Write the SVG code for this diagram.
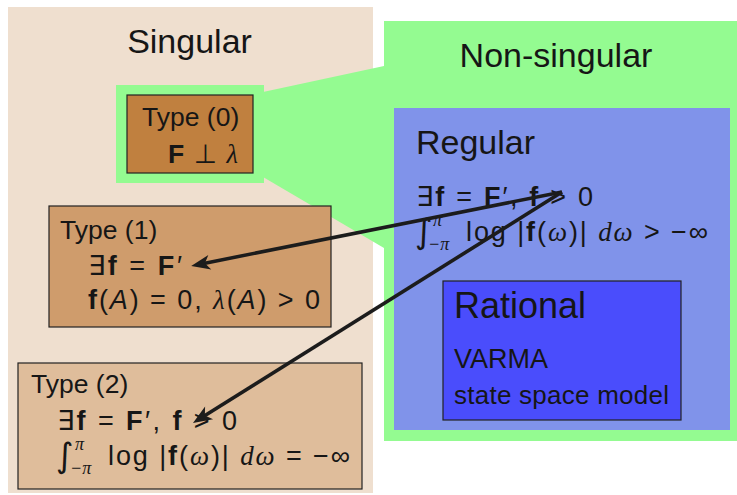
<svg xmlns="http://www.w3.org/2000/svg" width="737" height="495" viewBox="0 0 737 495">
<style>
  text { font-family: "Liberation Sans", Arial, sans-serif; fill: #161616; }
  .title { font-size: 34px; }
  .t { font-size: 26.5px; }
  .m { font-size: 27px; }
  .b { font-weight: bold; }
  .i { font-style: italic; font-family: "Liberation Serif", serif; }
  .ia { font-style: italic; }
  .sym { font-family: "DejaVu Sans", sans-serif; }
  .int { font-family: "DejaVu Sans", sans-serif; font-size: 34px; }
  .lim { font-size: 18px; font-style: italic; font-family: "Liberation Serif", serif; }
  .box { stroke: #222; stroke-width: 1.2; }
  .arrow { stroke: #1c1c1c; stroke-width: 3.6; fill: none; marker-end: url(#head); }
</style>
<defs>
  <marker id="head" markerUnits="userSpaceOnUse" orient="auto" markerWidth="24" markerHeight="20" viewBox="-12 -10 24 20" refX="0" refY="0">
    <path d="M9,0 L-10,-7.5 L-5,0 L-10,7.5 Z" fill="#1c1c1c"/>
  </marker>
</defs>

<g id="singular">
  <rect x="8" y="7" width="365" height="486" fill="#EFDFCF"/>
  <text class="title" x="189.5" y="53" text-anchor="middle">Singular</text>
</g>

<g id="nonsingular">
  <rect x="384" y="21" width="353" height="420" fill="#94FB91"/>
  <polygon points="263,92 384,66 384,248 263,177" fill="#94FB91"/>
  <rect x="116" y="85" width="148" height="98" fill="#94FB91"/>
  <text class="title" x="556" y="67" text-anchor="middle">Non-singular</text>
</g>

<g id="type0">
  <rect class="box" x="127" y="95" width="126" height="78" fill="#C0803F"/>
  <text class="t" x="142" y="126">Type (0)</text>
  <text class="t" x="168" y="163" textLength="70" lengthAdjust="spacing"><tspan class="b">F</tspan> <tspan class="sym">⊥</tspan> <tspan class="i">λ</tspan></text>
</g>

<g id="type1">
  <rect class="box" x="49" y="206" width="282" height="121" fill="#CF9C6C"/>
  <text class="t" x="60" y="239">Type (1)</text>
  <text class="m" x="88" y="275" textLength="94" lengthAdjust="spacing"><tspan class="sym">∃</tspan><tspan class="b">f</tspan> = <tspan class="b">F</tspan>′</text>
  <text class="m" x="88" y="309" textLength="232" lengthAdjust="spacing"><tspan class="b">f</tspan>(<tspan class="ia">A</tspan>) = 0, <tspan class="i">λ</tspan>(<tspan class="ia">A</tspan>) &gt; 0</text>
</g>

<g id="type2">
  <rect class="box" x="18" y="363" width="344" height="126" fill="#DFBD9B"/>
  <text class="t" x="31" y="393">Type (2)</text>
  <text class="m" x="57" y="430" textLength="180" lengthAdjust="spacing"><tspan class="sym">∃</tspan><tspan class="b">f</tspan> = <tspan class="b">F</tspan>′,  <tspan class="b">f</tspan> &gt; 0</text>
  <text><tspan class="int" x="56" y="467">∫</tspan><tspan class="lim" x="75" y="450">π</tspan><tspan class="lim" x="70" y="474">−π</tspan></text>
  <text class="m" x="108" y="465" textLength="242" lengthAdjust="spacing">log |<tspan class="b">f</tspan>(<tspan class="i">ω</tspan>)| <tspan class="i">dω</tspan> = −∞</text>
</g>

<g id="regular">
  <rect x="394" y="108" width="336" height="322" fill="#8093EA"/>
  <text class="title" x="416" y="154">Regular</text>
  <text class="m" x="416" y="206" textLength="177" lengthAdjust="spacing"><tspan class="sym">∃</tspan><tspan class="b">f</tspan> = <tspan class="b">F</tspan>′,  <tspan class="b">f</tspan> &gt; 0</text>
  <text><tspan class="int" x="415" y="243">∫</tspan><tspan class="lim" x="433" y="226">π</tspan><tspan class="lim" x="428" y="250">−π</tspan></text>
  <text class="m" x="466" y="241" textLength="242" lengthAdjust="spacing">log |<tspan class="b">f</tspan>(<tspan class="i">ω</tspan>)| <tspan class="i">dω</tspan> &gt; −∞</text>
</g>

<g id="rational">
  <rect class="box" x="443" y="281" width="238" height="139" fill="#4A4DFC"/>
  <text x="454" y="318" font-size="36">Rational</text>
  <text x="454" y="368" font-size="27">VARMA</text>
  <text x="454" y="404" font-size="26" textLength="215" lengthAdjust="spacing">state space model</text>
</g>

<g id="connectors">
  <line class="arrow" x1="562" y1="192" x2="200" y2="264.2"/>
  <line class="arrow" x1="562" y1="192" x2="200.6" y2="418.2"/>
</g>
</svg>
